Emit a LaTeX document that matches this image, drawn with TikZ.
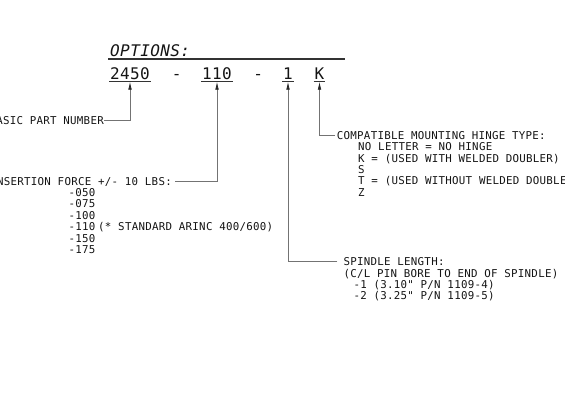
\documentclass[tikz,border=0pt]{standalone}
\usepackage{fontspec}
\usetikzlibrary{arrows.meta}
\newfontfamily\cadfont[LetterSpace=2.5,Ligatures=TeXOff]{DejaVu Sans Mono}
\begin{document}
\begin{tikzpicture}[x=1pt,y=-1pt,
  sm/.style={font=\cadfont\fontsize{10.8}{11.4}\selectfont, inner sep=0pt, text=black!92, text depth=0pt},
  big/.style={font=\cadfont\fontsize{16}{18}\selectfont, inner sep=0pt, text=black!92, text depth=0pt},
  num/.style={big, inner xsep=0.8pt, inner ysep=2.5pt},
  uline/.style={draw=black!80, line width=1.1pt},
  conn/.style={draw=black!55, line width=0.7pt, -{Latex[length=8pt,width=3.6pt,color=black!85]}},
  lead/.style={draw=black!55, line width=0.7pt}]
\useasboundingbox (0,0) rectangle (565,400);
\clip (0,0) rectangle (565,400);
% header
\node[big, anchor=base west] (opt) at (110,56.7) {\itshape OPTIONS:};
\coordinate (ol) at (108,59);
\coordinate (or) at (345,59);
\draw[uline] (ol) -- (or);
% part number fields
\node[num, anchor=base] (n2450) at (130,79) {2450};
\node[big, anchor=base] (d1) at (176.7,79) {-};
\node[num, anchor=base] (n110) at (217,79) {110};
\node[big, anchor=base] (d2) at (258.3,79) {-};
\node[num, anchor=base] (n1) at (288,79) {1};
\node[num, anchor=base] (nK) at (319.5,79) {K};
\foreach \n in {n2450,n110,n1,nK}
  \draw[uline] (\n.south west) -- (\n.south east);
% basic part number
\node[sm, anchor=base east] (basic) at (104,124.3) {BASIC PART NUMBER};
\draw[conn] (basic.east) -| (n2450.south);
% insertion force
\node[sm, anchor=base east] (ins) at (172,185) {INSERTION FORCE +/- 10 LBS:};
\draw[conn] ([xshift=3pt]ins.east) -| (n110.south);
\foreach \t [count=\i from 0] in {-050,-075,-100,-110,-150,-175}
  \node[sm, anchor=base west] (ins\i) at (68.3,196.4+11.4*\i) {\t};
\node[sm, anchor=base west] (arinc) at (98,230.6) {(* STANDARD ARINC 400/600)};
% hinge
\node[sm, anchor=base west] (hinge) at (336.7,139.3) {COMPATIBLE MOUNTING HINGE TYPE:};
\draw[conn] ([xshift=-1.5pt]hinge.west) -| (nK.south);
\node[sm, anchor=base west] (h1) at (358,150.7) {NO LETTER = NO HINGE};
\node[sm, anchor=base west] (h2) at (358,162.1) {K = (USED WITH WELDED DOUBLER)};
\node[sm, anchor=base west] (h3) at (358,173.5) {S};
\node[sm, anchor=base west] (h4) at (358,184.9) {T = (USED WITHOUT WELDED DOUBLER)};
\node[sm, anchor=base west] (h5) at (358,196.3) {Z};
% spindle
\node[sm, anchor=base west] (spin) at (343.3,265.7) {SPINDLE LENGTH:};
\draw[conn] ([xshift=-6pt]spin.west) -| (n1.south);
\node[sm, anchor=base west] (s1) at (343.3,277.1) {(C/L PIN BORE TO END OF SPINDLE)};
\node[sm, anchor=base west] (s2) at (353.3,288.5) {-1 (3.10" P/N 1109-4)};
\node[sm, anchor=base west] (s3) at (353.3,299.9) {-2 (3.25" P/N 1109-5)};
\end{tikzpicture}
\end{document}
